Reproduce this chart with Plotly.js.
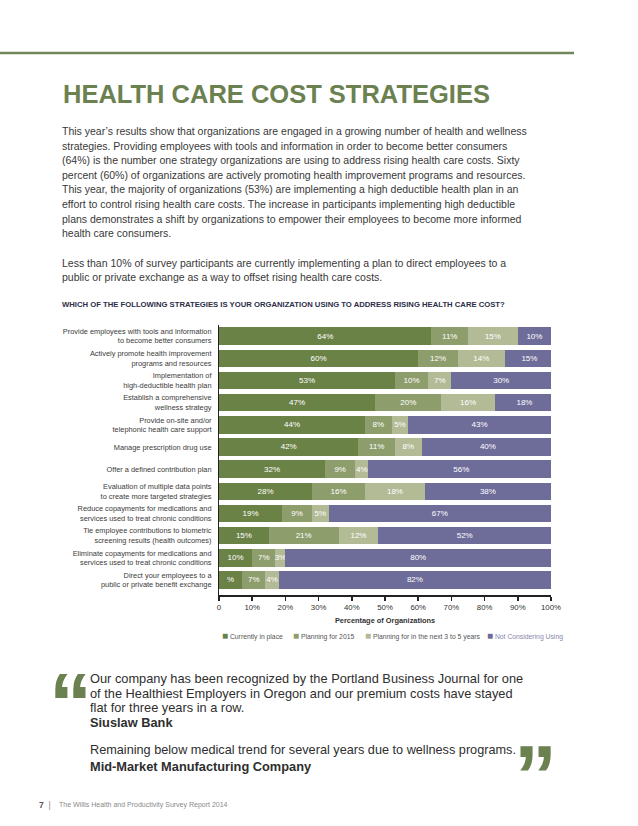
<!DOCTYPE html>
<html><head><meta charset="utf-8">
<script src="https://cdn.plot.ly/plotly-3.0.1.min.js"></script>
<style>html,body{margin:0;padding:0;background:#fff;} #chart{width:638px;height:826px;}</style>
</head><body><div id="chart"></div>
<script>
// ---------- DATA ----------
const categories = [
  "Provide employees with tools and information<br>to become better consumers",
  "Actively promote health improvement<br>programs and resources",
  "Implementation of<br>high-deductible health plan",
  "Establish a comprehensive<br>wellness strategy",
  "Provide on-site and/or<br>telephonic health care support",
  "Manage prescription drug use",
  "Offer a defined contribution plan",
  "Evaluation of multiple data points<br>to create more targeted strategies",
  "Reduce copayments for medications and<br>services used to treat chronic conditions",
  "Tie employee contributions to biometric<br>screening results (health outcomes)",
  "Eliminate copayments for medications and<br>services used to treat chronic conditions",
  "Direct your employees to a<br>public or private benefit exchange"
];
const currentlyInPlace = [64, 60, 53, 47, 44, 42, 32, 28, 19, 15, 10, 7];
const planningFor2015  = [11, 12, 10, 20,  8, 11,  9, 16,  9, 21,  7, 7];
const planning3to5     = [15, 14,  7, 16,  5,  8,  4, 18,  5, 12,  3, 4];
const notConsidering   = [10, 15, 30, 18, 43, 40, 56, 38, 67, 52, 80, 82];
// label of the first segment of the last bar is printed as "%" in the original
const currentlyInPlaceLabels = ["64%","60%","53%","47%","44%","42%","32%","28%","19%","15%","10%","%"];
const seriesNames = ["Currently in place", "Planning for 2015", "Planning for in the next 3 to 5 years", "Not Considering Using"];
const tickValues = [0, 10, 20, 30, 40, 50, 60, 70, 80, 90, 100];
const tickLabels = ["0", "10%", "20%", "30%", "40%", "50%", "60%", "70%", "80%", "90%", "100%"];

// ---------- STYLE ----------
const colors = ["#6b8247", "#8d9d6c", "#b2ba96", "#6e6c99"];
const SANS = "'Liberation Sans', Arial, sans-serif";
const GREEN = "#6b8150";

const L = 219, R = 551, T = 325, B = 595, W = 638, H = 826;
const px = x => (x - L) / (R - L);
const py = y => (B - y) / (B - T);

function pct(arr) { return arr.map(v => v + "%"); }
function barTrace(vals, labels, i) {
  return {
    type: "bar", orientation: "h", name: seriesNames[i],
    y: categories, x: vals, text: labels,
    textposition: "inside", insidetextanchor: "middle", textangle: 0,
    constraintext: "none",
    textfont: {family: SANS, size: 8, color: "#ffffff"},
    marker: {color: colors[i], line: {width: 0}},
    hoverinfo: "skip", showlegend: false
  };
}
const data = [
  barTrace(currentlyInPlace, currentlyInPlaceLabels, 0),
  barTrace(planningFor2015, pct(planningFor2015), 1),
  barTrace(planning3to5, pct(planning3to5), 2),
  barTrace(notConsidering, pct(notConsidering), 3)
];

function txt(x, y, text, size, opts) {
  opts = opts || {};
  return {
    xref: "paper", yref: "paper", x: px(x), y: py(y), text: text, showarrow: false,
    xanchor: "left", yanchor: "middle", align: "left",
    font: {family: opts.family || SANS, size: size, color: opts.color || "#3a3a3a", weight: opts.weight || 400}
  };
}

const bodyLines = [
  "This year\u2019s results show that organizations are engaged in a growing number of health and wellness",
  "strategies. Providing employees with tools and information in order to become better consumers",
  "(64%) is the number one strategy organizations are using to address rising health care costs. Sixty",
  "percent (60%) of organizations are actively promoting health improvement programs and resources.",
  "This year, the majority of organizations (53%) are implementing a high deductible health plan in an",
  "effort to control rising health care costs. The increase in participants implementing high deductible",
  "plans demonstrates a shift by organizations to empower their employees to become more informed",
  "health care consumers."
];
const bodyLines2 = [
  "Less than 10% of survey participants are currently implementing a plan to direct employees to a",
  "public or private exchange as a way to offset rising health care costs."
];

const annotations = [];
annotations.push(txt(61, 93.5, "HEALTH CARE COST STRATEGIES", 25.5, {color: GREEN, weight: 700}));
bodyLines.forEach((s, i) => annotations.push(txt(60, 131 + i * 14.6, s, 10.5, {color: "#383838"})));
bodyLines2.forEach((s, i) => annotations.push(txt(60, 262.5 + i * 14.6, s, 10.5, {color: "#383838"})));
annotations.push(txt(60, 304, "WHICH OF THE FOLLOWING STRATEGIES IS YOUR ORGANIZATION USING TO ADDRESS RISING HEALTH CARE COST?", 7.7, {color: "#2c2e48", weight: 700}));

// legend (built from series names / colours)
const legendX = [220, 291, 363, 485];
seriesNames.forEach((n, i) => {
  annotations.push(txt(legendX[i], 635,
    '<span style="color:' + colors[i] + ';font-size:10px">\u25A0</span> ' + n, 6.8,
    {color: i === 3 ? "#8886ad" : "#555555"}));
});

// quote
annotations.push(txt(46.5, 702.6, "\u201C", 86, {color: GREEN, weight: 700}));
annotations.push(txt(512, 775.4, "\u201D", 86, {color: GREEN, weight: 700}));
const quoteLines = [
  ["Our company has been recognized by the Portland Business Journal for one", 400],
  ["of the Healthiest Employers in Oregon and our premium costs have stayed", 400],
  ["flat for three years in a row.", 400],
  ["Siuslaw Bank", 700]
];
const quoteY = [678, 693, 707, 722];
quoteLines.forEach((q, i) => annotations.push(txt(88, quoteY[i], q[0], 12.8, {color: "#2e2e2e", weight: q[1]})));
annotations.push(txt(88, 750, "Remaining below medical trend for several years due to wellness programs.", 12.7, {color: "#2e2e2e"}));
annotations.push(txt(88, 766, "Mid-Market Manufacturing Company", 12.8, {color: "#2e2e2e", weight: 700}));

// footer
annotations.push(txt(37, 805, '<b>7</b>  <span style="color:#888">|</span>', 8.5, {color: "#555"}));
annotations.push(txt(57, 805, "The Willis Health and Productivity Survey Report 2014", 7, {color: "#8a8a8a"}));

const layout = {
  width: W, height: H,
  margin: {l: L, r: W - R, t: T, b: H - B, pad: 0},
  paper_bgcolor: "#ffffff", plot_bgcolor: "#ffffff",
  barmode: "stack", bargap: 0.21,
  showlegend: false,
  font: {family: SANS, color: "#333"},
  xaxis: {
    range: [0, 100], tickvals: tickValues, ticktext: tickLabels,
    showgrid: false, zeroline: false, showline: true, linecolor: "#222", linewidth: 1.5,
    ticks: "outside", ticklen: 4, tickwidth: 1.5, tickcolor: "#222",
    tickfont: {family: SANS, size: 7.8, color: "#333"},
    title: {text: "Percentage of Organizations", standoff: 7, font: {family: SANS, size: 7.4, color: "#333", weight: 700}},
    fixedrange: true
  },
  yaxis: {
    type: "category", categoryorder: "array", categoryarray: categories,
    range: [11.68, -0.5],
    showgrid: false, zeroline: false, showline: true, linecolor: "#222", linewidth: 1,
    ticks: "", ticklabelstandoff: 5,
    tickfont: {family: SANS, size: 7.4, color: "#3a3a3a"},
    fixedrange: true
  },
  shapes: [{
    type: "line", xref: "paper", yref: "paper",
    x0: px(0), x1: px(574), y0: py(53), y1: py(53),
    line: {color: "#71865a", width: 2.5}
  }],
  annotations: annotations
};

Plotly.newPlot("chart", data, layout, {displayModeBar: false, staticPlot: true});
</script>
</body></html>
